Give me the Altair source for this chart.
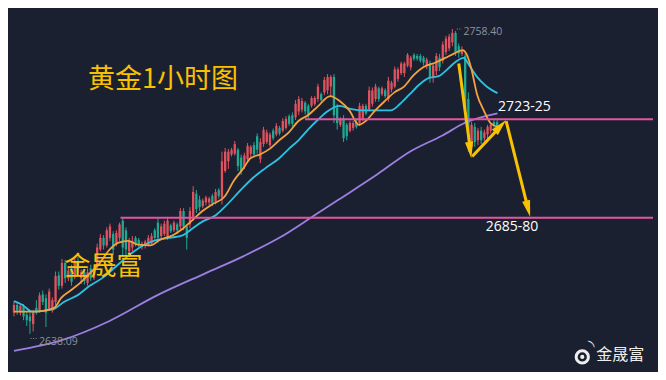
import altair as alt
import pandas as pd

# ---------------- data ----------------
OPEN = [2646.5, 2649.5, 2646.5, 2649.1, 2645.7, 2645.0, 2642.0, 2648.4, 2647.3, 2653.7,
        2652.2, 2648.0, 2647.3, 2650.7, 2661.2, 2657.1, 2666.1, 2660.1, 2663.9, 2660.9,
        2666.9, 2660.1, 2662.4, 2658.2, 2663.9, 2660.1, 2664.6, 2671.4, 2676.0, 2673.0,
        2676.0, 2677.5, 2673.7, 2676.0, 2682.8, 2679.0, 2670.7, 2672.2, 2676.0, 2675.2,
        2672.6, 2673.0, 2673.3, 2673.7, 2679.0, 2682.0, 2676.7, 2677.5, 2676.0, 2680.9,
        2679.0, 2681.3, 2680.5, 2686.6, 2680.5, 2681.3, 2684.3, 2693.4, 2691.1, 2688.5,
        2690.0, 2690.0, 2692.6, 2690.3, 2694.9, 2691.9, 2702.4, 2706.2, 2708.9, 2709.2,
        2710.8, 2707.7, 2704.0, 2707.0, 2709.2, 2712.6, 2716.1, 2707.0, 2713.0, 2713.8,
        2712.6, 2718.3, 2716.8, 2719.4, 2718.3, 2719.4, 2724.0, 2724.4, 2723.6, 2725.9,
        2726.6, 2729.3, 2728.1, 2728.1, 2728.9, 2730.8, 2732.7, 2733.4, 2734.2, 2735.7,
        2739.5, 2727.4, 2720.6, 2723.2, 2720.6, 2718.3, 2719.4, 2721.7, 2721.3, 2723.2,
        2728.1, 2726.6, 2728.9, 2730.8, 2735.0, 2732.7, 2734.2, 2730.8, 2734.6, 2735.7,
        2738.7, 2741.0, 2741.0, 2744.0, 2743.3, 2748.2, 2747.8, 2747.8, 2747.1, 2744.0,
        2744.8, 2739.5, 2741.8, 2747.1, 2745.9, 2749.3, 2750.8, 2753.1, 2756.9, 2751.6,
        2748.6, 2747.8, 2730.8, 2711.9, 2719.8, 2714.5, 2718.3, 2715.3, 2716.8, 2718.3,
        2721.7, 2721.7]
HIGH = [2651.0, 2650.3, 2649.9, 2649.9, 2647.2, 2646.5, 2647.6, 2651.4, 2654.4, 2655.2,
        2653.7, 2656.0, 2652.5, 2662.7, 2662.7, 2667.7, 2667.3, 2664.3, 2665.4, 2668.0,
        2668.4, 2663.5, 2663.1, 2663.9, 2665.4, 2665.4, 2673.7, 2677.5, 2677.1, 2680.1,
        2681.6, 2678.6, 2679.0, 2682.0, 2683.9, 2680.1, 2676.0, 2676.7, 2676.7, 2676.0,
        2674.5, 2675.2, 2677.1, 2677.9, 2679.8, 2683.9, 2681.6, 2682.8, 2684.3, 2681.6,
        2682.8, 2682.0, 2687.7, 2687.7, 2681.3, 2688.1, 2696.4, 2694.9, 2692.6, 2691.5,
        2692.6, 2692.2, 2693.4, 2695.3, 2695.6, 2710.0, 2711.5, 2711.1, 2711.5, 2714.2,
        2711.5, 2708.9, 2709.6, 2713.4, 2712.6, 2713.8, 2717.2, 2715.3, 2719.8, 2718.7,
        2717.6, 2719.1, 2721.3, 2720.2, 2723.2, 2724.0, 2724.7, 2725.5, 2730.4, 2731.9,
        2731.2, 2730.0, 2728.9, 2731.9, 2731.9, 2736.8, 2733.4, 2739.5, 2740.6, 2740.2,
        2740.6, 2728.9, 2723.6, 2724.4, 2721.3, 2722.1, 2722.1, 2722.5, 2729.3, 2728.9,
        2728.9, 2735.7, 2735.3, 2736.8, 2735.7, 2735.7, 2735.0, 2739.5, 2738.0, 2743.6,
        2743.3, 2745.5, 2745.5, 2748.9, 2747.8, 2748.9, 2748.6, 2748.6, 2747.8, 2747.1,
        2745.9, 2744.8, 2748.9, 2748.6, 2753.5, 2755.7, 2756.5, 2758.4, 2757.6, 2752.7,
        2751.6, 2748.9, 2733.4, 2721.7, 2721.3, 2719.4, 2719.8, 2718.7, 2720.6, 2721.3,
        2722.5, 2722.5]
LOW = [2645.0, 2645.7, 2645.4, 2643.5, 2641.2, 2638.09, 2639.0, 2645.7, 2646.5, 2649.5,
       2640.8, 2647.3, 2646.5, 2649.5, 2655.6, 2656.0, 2658.2, 2659.0, 2657.1, 2659.7,
       2662.4, 2657.8, 2657.5, 2657.1, 2659.0, 2659.4, 2663.9, 2670.7, 2671.4, 2672.2,
       2674.8, 2669.2, 2672.6, 2674.8, 2668.4, 2669.2, 2668.4, 2670.7, 2672.6, 2672.2,
       2671.4, 2671.8, 2672.6, 2673.0, 2674.8, 2674.1, 2675.6, 2676.7, 2675.2, 2677.9,
       2678.3, 2677.5, 2679.4, 2679.0, 2671.4, 2679.8, 2682.8, 2685.8, 2686.6, 2687.7,
       2688.8, 2688.8, 2688.5, 2689.2, 2691.5, 2689.2, 2701.7, 2703.2, 2708.1, 2708.5,
       2702.4, 2700.9, 2703.2, 2705.8, 2707.7, 2707.7, 2709.2, 2705.5, 2711.9, 2713.0,
       2711.9, 2714.5, 2716.1, 2716.4, 2717.6, 2718.7, 2720.2, 2719.8, 2722.5, 2724.4,
       2725.5, 2724.7, 2723.2, 2727.4, 2728.1, 2729.7, 2729.7, 2732.3, 2732.7, 2731.5,
       2721.3, 2718.7, 2719.8, 2713.8, 2714.5, 2717.6, 2718.3, 2719.1, 2720.2, 2722.1,
       2724.4, 2725.9, 2727.8, 2729.7, 2729.7, 2731.9, 2731.2, 2729.7, 2733.4, 2735.0,
       2737.6, 2740.2, 2739.5, 2743.3, 2742.1, 2745.9, 2745.9, 2745.2, 2744.0, 2742.5,
       2737.2, 2737.2, 2740.2, 2741.8, 2744.8, 2748.2, 2749.7, 2751.6, 2747.8, 2747.1,
       2747.8, 2721.3, 2710.0, 2709.2, 2711.9, 2712.6, 2713.0, 2714.2, 2715.3, 2717.2,
       2719.4, 2719.1]
CLOSE = [2649.5, 2647.3, 2649.1, 2645.0, 2643.5, 2643.1, 2646.5, 2646.5, 2653.3, 2650.7,
         2646.5, 2654.8, 2651.4, 2660.9, 2657.1, 2666.1, 2660.1, 2663.1, 2658.6, 2666.9,
         2663.9, 2662.4, 2659.0, 2662.4, 2660.1, 2663.9, 2672.2, 2676.0, 2673.0, 2679.0,
         2680.5, 2671.4, 2677.9, 2681.3, 2672.2, 2671.4, 2674.8, 2674.8, 2673.7, 2673.3,
         2673.7, 2674.5, 2676.0, 2676.7, 2676.0, 2676.0, 2680.5, 2681.6, 2682.8, 2678.6,
         2682.0, 2679.0, 2686.6, 2680.5, 2676.0, 2686.6, 2694.1, 2687.3, 2688.1, 2690.7,
         2691.9, 2691.5, 2689.6, 2694.1, 2692.6, 2706.2, 2710.0, 2710.0, 2710.8, 2713.0,
         2704.3, 2702.4, 2708.5, 2712.3, 2711.9, 2708.9, 2710.8, 2713.8, 2718.7, 2717.6,
         2716.8, 2715.3, 2720.2, 2717.2, 2722.1, 2722.9, 2721.0, 2721.0, 2728.9, 2730.8,
         2730.0, 2725.9, 2724.4, 2731.2, 2731.2, 2735.7, 2730.4, 2738.3, 2739.5, 2739.5,
         2724.4, 2721.3, 2722.9, 2715.3, 2716.1, 2721.3, 2721.3, 2719.8, 2728.1, 2728.1,
         2725.1, 2734.2, 2734.2, 2735.7, 2730.8, 2735.0, 2731.9, 2738.0, 2737.2, 2742.5,
         2742.5, 2744.8, 2744.8, 2748.2, 2747.1, 2746.7, 2746.7, 2745.9, 2745.2, 2746.3,
         2739.1, 2744.0, 2747.8, 2743.3, 2752.3, 2754.6, 2755.4, 2756.9, 2749.3, 2748.9,
         2750.1, 2727.0, 2715.7, 2720.6, 2713.8, 2718.3, 2714.5, 2717.6, 2719.8, 2720.6,
         2720.2, 2719.8]

# moving averages sampled along the curve: (candle index, price)
MA_FAST_I = [0, 3.6, 6.6, 9.6, 12.6, 14.7, 17.7, 20.7, 23.7, 26.7, 29.7, 32.7, 35.7, 38.7,
             42.6, 45.6, 49.8, 52.9, 56.2, 58.9, 61.9, 65.8, 68.8, 71.8, 73.9, 76.9, 79.9,
             82.9, 85.9, 88.9, 91.9, 94.9, 98.8, 101.8, 104.8, 107.8, 109.9, 112.9, 115.9,
             118.9, 121.9, 124.9, 127.9, 131.8, 134.8, 137.8, 140.2, 141.4, 142.9, 144.7,
             146.8, 148.9, 151.3]
MA_FAST_P = [2646.9, 2646.9, 2646.9, 2647.3, 2648.4, 2652.2, 2655.2, 2658.2, 2662.0, 2665.8,
             2671.1, 2674.1, 2674.8, 2673.3, 2673.0, 2675.2, 2677.1, 2679.8, 2683.5, 2686.6,
             2689.2, 2692.2, 2698.7, 2703.6, 2707.4, 2708.9, 2711.1, 2714.5, 2717.6, 2722.1,
             2724.4, 2727.8, 2731.9, 2730.0, 2726.3, 2720.6, 2722.1, 2726.3, 2730.0, 2733.4,
             2735.7, 2740.2, 2743.3, 2745.2, 2747.0, 2748.9, 2750.1, 2748.6, 2742.9, 2732.7,
             2726.3, 2721.3, 2719.8]
MA_MID_I = [0, 2.7, 5.7, 9.6, 12.6, 15.6, 19.8, 23.7, 27.6, 31.8, 36.6, 40.8, 44.7, 48.6,
            52.9, 55.9, 58.9, 62.8, 65.8, 70.9, 74.8, 78.7, 82.9, 85.9, 88.9, 91.9, 94.9,
            97.9, 101.8, 104.8, 108.7, 113.8, 117.7, 120.7, 123.7, 126.7, 129.7, 132.7,
            135.4, 137.8, 140.5, 142.3, 144.7, 147.7, 151.1]
MA_MID_P = [2651.0, 2649.5, 2646.9, 2647.3, 2648.0, 2650.7, 2653.3, 2657.1, 2660.1, 2664.6,
            2669.8, 2673.3, 2675.2, 2676.0, 2677.1, 2679.8, 2682.4, 2684.7, 2688.1, 2694.9,
            2699.8, 2703.6, 2707.4, 2711.1, 2714.5, 2718.7, 2722.5, 2725.9, 2728.1, 2727.0,
            2726.3, 2726.3, 2726.3, 2728.9, 2732.7, 2736.5, 2739.1, 2739.8, 2742.5, 2745.2,
            2747.0, 2744.0, 2739.5, 2735.7, 2733.1]
MA_SLOW_I = [0, 14.7, 29.7, 44.7, 59.8, 71.8, 82.9, 93.7, 101.5, 113.8, 123.7, 133.9, 140.8, 151.1]
MA_SLOW_P = [2631.4, 2635.5, 2643.1, 2653.3, 2662.0, 2668.8, 2676.0, 2684.7, 2691.1, 2701.3,
             2710.0, 2716.4, 2721.3, 2725.1]

# horizontal levels: start index, price
LEVEL_START = [91.0, 33.3]
LEVEL_PRICE = [2722.8, 2683.9]

# arrows: shaft start / shaft end / tip / heading (degrees clockwise from up)
ARROW_I0 = [139.0, 143.2, 153.8]
ARROW_P0 = [2744.8, 2708.1, 2722.1]
ARROW_I1 = [142.5, 151.1, 160.4]
ARROW_P1 = [2711.9, 2718.7, 2688.8]
TIP_I = [142.9, 153.8, 161.3]
TIP_P = [2707.4, 2722.5, 2684.3]
TIP_ANGLE = [172.5, 42.6, 166.0]

TITLE = "黄金1小时图"
BRAND = "金晟富"
LEVEL_LABELS = ["2723-25", "2685-80"]
LEVEL_LABEL_I = [151.3, 147.4]
LEVEL_LABEL_P = [2727.8, 2680.1]
EXTREME_LABELS = ["2758.40", "2638.09"]
EXTREME_I = [140.5, 7.8]
EXTREME_P = [2757.3, 2635.0]
EXTREME_LEAD_I0 = [138.4, 5.2]
EXTREME_LEAD_I1 = [140.0, 7.3]
EXTREME_LEAD_P = [2758.4, 2636.3]

X_DOMAIN = [-0.3, 199.7]
Y_DOMAIN = [2623.06, 2766.7]

# ---------------- styling ----------------
BG = "#1b2030"
UP = "#e0535e"
DOWN = "#20a892"
ORANGE = "#f3a23e"
CYAN = "#2cc3e3"
PURPLE = "#9c7fe2"
PINK = "#e4559f"
YELLOW = "#f8c102"
CJK = "Noto Sans CJK SC"

xs = alt.Scale(domain=X_DOMAIN, nice=False, zero=False)
ys = alt.Scale(domain=Y_DOMAIN, nice=False, zero=False)


def X(f):
    return alt.X(f, type="quantitative", scale=xs, axis=None)


def Y(f):
    return alt.Y(f, type="quantitative", scale=ys, axis=None)


cdf = pd.DataFrame({"i": list(range(len(OPEN))), "open": OPEN, "high": HIGH,
                    "low": LOW, "close": CLOSE})
ccolor = alt.condition("datum.close >= datum.open", alt.value(UP), alt.value(DOWN))
cbase = alt.Chart(cdf)
wicks = cbase.mark_rule(strokeWidth=1).encode(x=X("i"), y=Y("low"), y2="high", color=ccolor)
bodies = cbase.mark_bar(size=2.3).encode(x=X("i"), y=Y("open"), y2="close", color=ccolor)


def ma(ii, pp, col):
    d = pd.DataFrame({"i": ii, "p": pp})
    return alt.Chart(d).mark_line(color=col, strokeWidth=1.8, interpolate="monotone").encode(
        x=X("i"), y=Y("p"))


slow = ma(MA_SLOW_I, MA_SLOW_P, PURPLE)
mid = ma(MA_MID_I, MA_MID_P, CYAN)
fast = ma(MA_FAST_I, MA_FAST_P, ORANGE)

ldf = pd.DataFrame({"i": LEVEL_START, "i2": [X_DOMAIN[1]] * len(LEVEL_START), "p": LEVEL_PRICE})
levels = alt.Chart(ldf).mark_rule(color=PINK, strokeWidth=2).encode(x=X("i"), x2="i2", y=Y("p"))

adf = pd.DataFrame({"i": ARROW_I0, "p": ARROW_P0, "i2": ARROW_I1, "p2": ARROW_P1})
shafts = alt.Chart(adf).mark_rule(color=YELLOW, strokeWidth=3).encode(
    x=X("i"), y=Y("p"), x2="i2", y2="p2")
hdf = pd.DataFrame({"i": TIP_I, "p": TIP_P, "a": TIP_ANGLE})
heads = alt.Chart(hdf).mark_point(shape="M0,0L0.42,1.7L-0.42,1.7Z", filled=True, size=380,
                                  color=YELLOW, opacity=1, strokeWidth=0).encode(
    x=X("i"), y=Y("p"), angle=alt.Angle("a:Q", scale=None))

tdf = pd.DataFrame({"i": [46.6], "p": [2738.3], "t": [TITLE]})
title_txt = alt.Chart(tdf).mark_text(font=CJK, fontSize=27, color=YELLOW, align="center",
                                     baseline="middle").encode(x=X("i"), y=Y("p"), text="t:N")
bdf = pd.DataFrame({"i": [28.0], "p": [2664.6], "t": [BRAND]})
brand_txt = alt.Chart(bdf).mark_text(font=CJK, fontSize=26, color=YELLOW, align="center",
                                     baseline="middle").encode(x=X("i"), y=Y("p"), text="t:N")

lvdf = pd.DataFrame({"i": LEVEL_LABEL_I, "p": LEVEL_LABEL_P, "t": LEVEL_LABELS})
lvtext = alt.Chart(lvdf).mark_text(font="Open Sans", fontSize=14, color="#ffffff", align="left",
                                   baseline="middle").encode(x=X("i"), y=Y("p"), text="t:N")

exdf = pd.DataFrame({"i": EXTREME_I, "p": EXTREME_P, "t": EXTREME_LABELS})
extext = alt.Chart(exdf).mark_text(font="Open Sans", fontSize=10.5, color="#8d929c", align="left",
                                   baseline="middle").encode(x=X("i"), y=Y("p"), text="t:N")
eldf = pd.DataFrame({"i": EXTREME_LEAD_I0, "i2": EXTREME_LEAD_I1, "p": EXTREME_LEAD_P})
exlead = alt.Chart(eldf).mark_rule(color="#8d929c", strokeWidth=1, strokeDash=[1, 1.5]).encode(
    x=X("i"), x2="i2", y=Y("p"))

wdf = pd.DataFrame({"i": [182.0], "p": [2629.9], "t": [BRAND]})
wtext = alt.Chart(wdf).mark_text(font=CJK, fontSize=16, color="#eeeeee", align="left",
                                 baseline="middle").encode(x=X("i"), y=Y("p"), text="t:N")
icdf = pd.DataFrame({"i": [177.6], "p": [2629.0]})
icon_ring = alt.Chart(icdf).mark_point(shape="circle", filled=False, size=150, color="#eeeeee",
                                       strokeWidth=3, opacity=1).encode(x=X("i"), y=Y("p"))
icon_dot = alt.Chart(icdf).mark_point(shape="circle", filled=True, size=18, color="#eeeeee",
                                      opacity=1).encode(x=X("i"), y=Y("p"))
icdf2 = pd.DataFrame({"i": [180.6], "p": [2634.2]})
icon_arc = alt.Chart(icdf2).mark_text(text=")", font="DejaVu Sans", fontSize=10, angle=315,
                                      color="#eeeeee").encode(x=X("i"), y=Y("p"))

chart = alt.layer(
    wicks, bodies, slow, mid, fast, levels, shafts, heads, title_txt, brand_txt, lvtext,
    extext, exlead, wtext, icon_ring, icon_dot, icon_arc
).properties(
    width=650, height=364,
    autosize=alt.AutoSizeParams(type="fit", contains="padding"),
    background=BG, padding=0,
).configure_view(stroke=None)

chart.save("out.html", embed_options={"renderer": "svg", "actions": False})
